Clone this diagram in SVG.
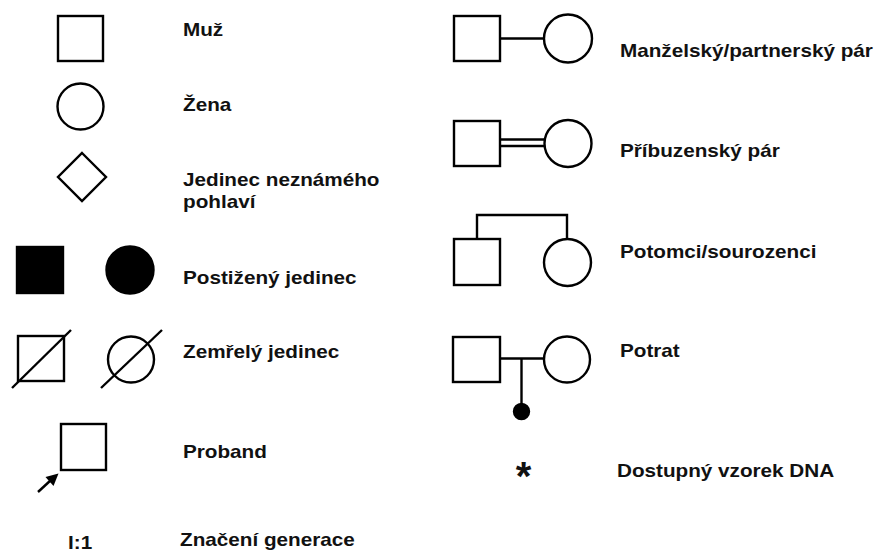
<svg xmlns="http://www.w3.org/2000/svg" width="879" height="552" viewBox="0 0 879 552">
<defs>
<style>
.s{fill:#fff;stroke:#000;stroke-width:2.4}
.f{fill:#000;stroke:#000;stroke-width:2.4}
.l{fill:none;stroke:#000;stroke-width:2.4}
.t{font-family:"Liberation Sans",Arial,sans-serif;font-weight:bold;font-size:18px;fill:#111}
</style>
</defs>
<rect width="879" height="552" fill="#fff"/>

<g id="male"><rect class="s" x="58" y="16" width="45" height="45"/><text class="t" transform="translate(183,36) scale(1.15,1)">Muž</text></g>
<g id="female"><circle class="s" cx="80.5" cy="106.5" r="23"/><text class="t" transform="translate(183,111) scale(1.15,1)">Žena</text></g>
<g id="unknown"><polygon class="s" points="82,153 106,177 82,201 58,177"/><text class="t" transform="translate(183,186) scale(1.15,1)">Jedinec neznámého</text><text class="t" transform="translate(183,208) scale(1.15,1)">pohlaví</text></g>
<g id="affected"><rect class="f" x="17" y="247" width="46" height="46"/><circle class="f" cx="130" cy="270" r="23.5"/><text class="t" transform="translate(183,284) scale(1.15,1)">Postižený jedinec</text></g>
<g id="deceased"><rect class="s" x="18" y="336" width="46" height="45"/><line class="l" x1="12" y1="388" x2="71" y2="330"/><circle class="s" cx="131" cy="359.5" r="23"/><line class="l" x1="101" y1="388" x2="162" y2="330"/><text class="t" transform="translate(183,358) scale(1.15,1)">Zemřelý jedinec</text></g>
<g id="proband"><rect class="s" x="61" y="424" width="45" height="46"/><line class="l" x1="38" y1="492" x2="51" y2="480" stroke-width="4"/><polygon points="58.5,473.5 45.5,477 53.5,486" fill="#000"/><text class="t" transform="translate(183,458) scale(1.15,1)">Proband</text></g>
<g id="generation"><text class="t" transform="translate(68,549) scale(1.15,1)">I:1</text><text class="t" transform="translate(180,546) scale(1.15,1)">Značení generace</text></g>

<g id="connectors">
<line class="l" x1="500" y1="38.5" x2="544" y2="38.5"/>
<line class="l" x1="500" y1="139.5" x2="544" y2="139.5"/>
<line class="l" x1="500" y1="146" x2="544" y2="146"/>
<polyline class="l" points="477,239 477,215 567,215 567,239"/>
<line class="l" x1="500" y1="358.5" x2="544" y2="358.5"/>
<line class="l" x1="521.5" y1="358.5" x2="521.5" y2="411"/>
</g>

<g id="couple"><rect class="s" x="454" y="16" width="46" height="45"/><circle class="s" cx="568" cy="38.5" r="24"/><text class="t" transform="translate(620,57) scale(1.15,1)">Manželský/partnerský pár</text></g>
<g id="consanguineous"><rect class="s" x="454" y="121" width="46" height="45"/><circle class="s" cx="568" cy="143.5" r="23.5"/><text class="t" transform="translate(620,157) scale(1.15,1)">Příbuzenský pár</text></g>
<g id="siblings"><rect class="s" x="454" y="239" width="46" height="46"/><circle class="s" cx="567.5" cy="262.5" r="23.5"/><text class="t" transform="translate(620,258) scale(1.15,1)">Potomci/sourozenci</text></g>
<g id="miscarriage"><rect class="s" x="453" y="337" width="47" height="45"/><circle class="s" cx="567" cy="359.5" r="23"/><circle class="f" cx="521.5" cy="411.5" r="7.5"/><text class="t" transform="translate(620,357) scale(1.15,1)">Potrat</text></g>
<g id="dna"><text class="t" x="523.5" y="490" text-anchor="middle" style="font-size:40px">*</text><text class="t" transform="translate(617,477) scale(1.15,1)">Dostupný vzorek DNA</text></g>
</svg>
